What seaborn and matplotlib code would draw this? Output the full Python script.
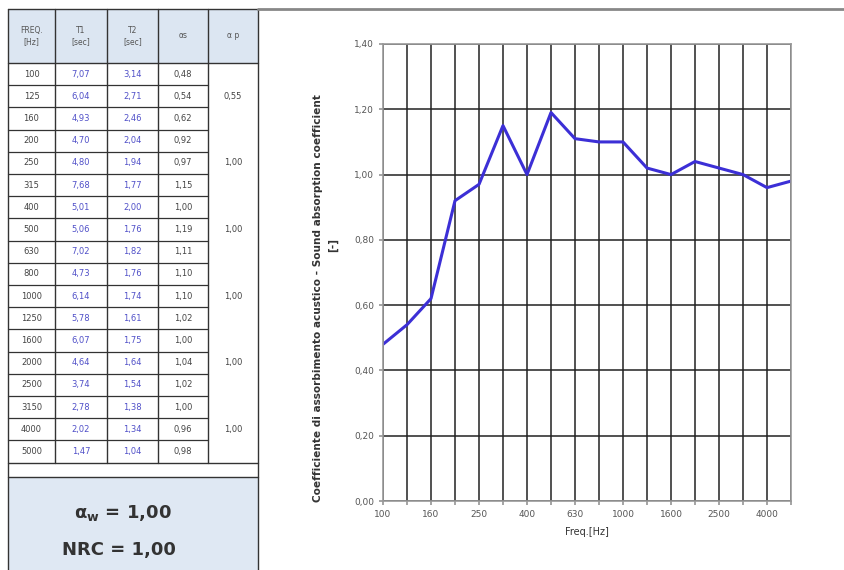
import matplotlib
matplotlib.use('Agg')
import matplotlib.pyplot as plt
from matplotlib.patches import Rectangle
import seaborn as sns
import numpy as np
import pandas as pd

# Dati misurati
freqs = ['100', '125', '160', '200', '250', '315', '400', '500', '630', '800',
         '1000', '1250', '1600', '2000', '2500', '3150', '4000', '5000']
t1 = [7.07, 6.04, 4.93, 4.70, 4.80, 7.68, 5.01, 5.06, 7.02, 4.73,
      6.14, 5.78, 6.07, 4.64, 3.74, 2.78, 2.02, 1.47]
t2 = [3.14, 2.71, 2.46, 2.04, 1.94, 1.77, 2.00, 1.76, 1.82, 1.76,
      1.74, 1.61, 1.75, 1.64, 1.54, 1.38, 1.34, 1.04]
alpha_s = [0.48, 0.54, 0.62, 0.92, 0.97, 1.15, 1.00, 1.19, 1.11, 1.10,
           1.10, 1.02, 1.00, 1.04, 1.02, 1.00, 0.96, 0.98]
alpha_p = [0.55, 1.00, 1.00, 1.00, 1.00, 1.00]
alpha_w = 1.00
nrc = 1.00

headers = ['FREQ.\n[Hz]', 'T1\n[sec]', 'T2\n[sec]', 'αs', 'α p']


def fmt(v):
    return f'{v:.2f}'.replace('.', ',')


sns.set_theme(style='white')
plt.rcParams['font.family'] = ['DejaVu Sans']

fig = plt.figure(figsize=(8.45, 5.7), dpi=100)

# --- tabella a sinistra (coordinate in pixel) ---
tab = fig.add_axes([0, 0, 1, 1], zorder=-1)
tab.set_xlim(0, 845)
tab.set_ylim(570, 0)
tab.axis('off')

cx = [8, 55, 107, 158, 208, 258]
y_head = 9
y0 = 63
rh = 22.2
n = len(freqs)
y_end = y0 + rh * n
y_box = y_end + 14

tab.add_patch(Rectangle((cx[0], y_head), cx[-1] - cx[0], y0 - y_head, fc='#dce6f2', ec='none'))
tab.add_patch(Rectangle((cx[0], y_box), cx[-1] - cx[0], 570 - y_box, fc='#dfe8f3', ec='none'))

lc = '#333333'
for x in (cx[0], cx[-1]):
    tab.plot([x, x], [y_head, 570], color=lc, lw=1)
for x in cx[1:-1]:
    tab.plot([x, x], [y_head, y_end], color=lc, lw=1)
for y in (y_head, y0, y_end, y_box):
    tab.plot([cx[0], cx[-1]], [y, y], color=lc, lw=1)
for i in range(1, n):
    y = y0 + rh * i
    tab.plot([cx[0], cx[4]], [y, y], color=lc, lw=0.9)

for j, h in enumerate(headers):
    tab.text((cx[j] + cx[j + 1]) / 2, (y_head + y0) / 2, h, ha='center', va='center',
             fontsize=5.5, color='#555555')

for i in range(n):
    yc = y0 + rh * (i + 0.5)
    tab.text((cx[0] + cx[1]) / 2, yc, freqs[i], ha='center', va='center', fontsize=6, color='#444444')
    tab.text((cx[1] + cx[2]) / 2, yc, fmt(t1[i]), ha='center', va='center', fontsize=6, color='#5050c8')
    tab.text((cx[2] + cx[3]) / 2, yc, fmt(t2[i]), ha='center', va='center', fontsize=6, color='#5050c8')
    tab.text((cx[3] + cx[4]) / 2, yc, fmt(alpha_s[i]), ha='center', va='center', fontsize=6, color='#444444')

for k, v in enumerate(alpha_p):
    yc = y0 + rh * (3 * k + 1.5)
    tab.text((cx[4] + cx[5]) / 2, yc, fmt(v), ha='center', va='center', fontsize=6, color='#444444')

tab.text(123, 513, r'α$_\mathregular{w}$ = ' + fmt(alpha_w), ha='center', va='center',
         fontsize=13, fontweight='bold', color='#333333')
tab.text(119, 550, 'NRC = ' + fmt(nrc), ha='center', va='center',
         fontsize=13, fontweight='bold', color='#333333')

# bordo superiore della zona grafico
tab.plot([cx[-1], 845], [9, 9], color='#888888', lw=2)

# etichetta asse y (due righe separate)
tab.text(318, 298, 'Coefficiente di assorbimento acustico - Sound absorption coefficient',
         rotation=90, ha='center', va='center', fontsize=7.6, fontweight='semibold', color='#333333')
tab.text(333, 245, '[-]', rotation=90, ha='center', va='center', fontsize=7.6,
         fontweight='semibold', color='#333333')

# --- grafico ---
ax = fig.add_axes([383 / 845, 1 - 501 / 570, 408 / 845, 457 / 570])
df = pd.DataFrame({'freq': freqs, 'alpha': alpha_s})
sns.lineplot(data=df, x='freq', y='alpha', sort=False, color='#3c2fd6', lw=2.2, ax=ax)

ax.set_xlim(0, n - 1)
ax.set_ylim(0, 1.4)
ax.set_xticks(range(n))
ax.set_xticklabels([f if i % 2 == 0 else '' for i, f in enumerate(freqs)])
yt = np.arange(0, 1.41, 0.2)
ax.set_yticks(yt)
ax.set_yticklabels([fmt(v) for v in yt])

ax.grid(True, color='#222222', lw=1.1)
ax.set_axisbelow(True)
for s in ax.spines.values():
    s.set_color('#999999')
    s.set_linewidth(1.2)

ax.tick_params(axis='both', labelsize=6.5, labelcolor='#555555', length=3, color='#999999',
               left=True, bottom=True)
ax.set_xlabel('Freq.[Hz]', fontsize=7, color='#333333', labelpad=6)
ax.set_ylabel('')

fig.savefig('out.png', dpi=100)
